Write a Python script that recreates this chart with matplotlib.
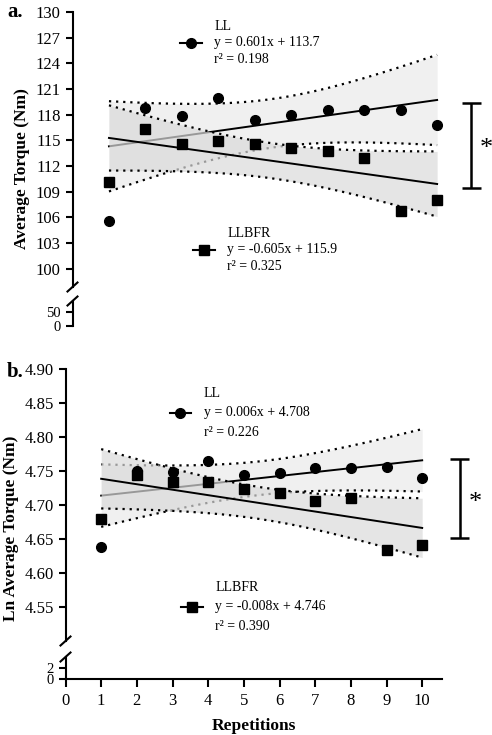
import numpy as np
import matplotlib
matplotlib.use("Agg")
import matplotlib.pyplot as plt

plt.rcParams['font.family'] = ['Liberation Serif', 'DejaVu Serif']
plt.rcParams['axes.linewidth'] = 1.5

# data
reps = np.arange(1, 11)
ll_a = [105.6, 118.8, 117.9, 119.9, 117.4, 118.0, 118.5, 118.6, 118.6, 116.8]
llbfr_a = [110.1, 116.3, 114.6, 114.9, 114.6, 114.1, 113.7, 112.9, 106.7, 108.0]
ll_b = [4.638, 4.750, 4.748, 4.765, 4.744, 4.747, 4.754, 4.754, 4.756, 4.739]
llbfr_b = [4.679, 4.744, 4.733, 4.734, 4.724, 4.718, 4.706, 4.710, 4.633, 4.641]

labels_a = ["LL\ny = 0.601x + 113.7\nr² = 0.198", "LLBFR\ny = -0.605x + 115.9\nr² = 0.325"]
labels_b = ["LL\ny = 0.006x + 4.708\nr² = 0.226", "LLBFR\ny = -0.008x + 4.746\nr² = 0.390"]

yticks_a = [100, 103, 106, 109, 112, 115, 118, 121, 124, 127, 130]
yticks_b = [4.55, 4.60, 4.65, 4.70, 4.75, 4.80, 4.85, 4.90]
xticks = list(range(0, 11))

T_CRIT = 2.306  # t(0.975, df=8)

W, H = 492, 735


def box(l, t, r, b):
    # pixel box -> figure fraction
    return [l / W, 1 - b / H, (r - l) / W, (b - t) / H]


def fit_band(x, y):
    x = np.asarray(x, float)
    y = np.asarray(y, float)
    m, c = np.polyfit(x, y, 1)
    xs = np.linspace(x.min(), x.max(), 200)
    fit = m * xs + c
    resid = y - (m * x + c)
    s = np.sqrt(np.sum(resid ** 2) / (len(x) - 2))
    sxx = np.sum((x - x.mean()) ** 2)
    se = s * np.sqrt(1 / len(x) + (xs - x.mean()) ** 2 / sxx)
    return xs, fit, fit - T_CRIT * se, fit + T_CRIT * se


def draw_series(ax, ll, llbfr):
    dots = (0, (1, 2.2))
    xs, f, lo, hi = fit_band(reps, ll)
    ax.fill_between(xs, lo, hi, color='#f0f0f0', lw=0, zorder=1)
    ax.plot(xs, lo, ls=dots, color='black', lw=1.6, zorder=2)
    ax.plot(xs, hi, ls=dots, color='black', lw=1.6, zorder=2)
    ax.plot(xs, f, color='black', lw=1.4, zorder=2)

    xs, f, lo, hi = fit_band(reps, llbfr)
    ax.fill_between(xs, lo, hi, color='#dadada', alpha=0.7, lw=0, zorder=3)
    ax.plot(xs, lo, ls=dots, color='black', lw=1.6, zorder=4)
    ax.plot(xs, hi, ls=dots, color='black', lw=1.6, zorder=4)
    ax.plot(xs, f, color='black', lw=1.4, zorder=4)

    ax.plot(reps, ll, 'o', color='black', ms=7, zorder=5)
    ax.plot(reps, llbfr, 's', color='black', ms=7, zorder=5)


def legend_entry(ax, x, y, marker, text, spacing):
    ax.plot([x - 0.3, x + 0.3], [y, y], color='black', lw=1.5, zorder=6, clip_on=False)
    ax.plot([x], [y], marker, color='black', ms=7, zorder=6, clip_on=False)
    ax.text(x + 0.65, y, text, fontsize=10, va='center', ha='left',
            linespacing=spacing, zorder=6)


def bracket(ax, x, y0, y1, half, star_x, star_y):
    kw = dict(color='black', lw=1.8, clip_on=False, solid_capstyle='butt')
    ax.plot([x, x], [y0, y1], **kw)
    ax.plot([x - half, x + half], [y0, y0], **kw)
    ax.plot([x - half, x + half], [y1, y1], **kw)
    ax.text(star_x, star_y, '*', fontsize=19, ha='left', va='center', clip_on=False)


def break_marks(ax_up, ax_low):
    # small slashes across the left spine at the gap
    for ax, yy in ((ax_up, 0), (ax_low, 1)):
        bb = ax.get_position()
        dx = 5 / (bb.width * W)
        dy = 4.5 / (bb.height * H)
        ax.plot([-dx, dx], [yy - dy, yy + dy], transform=ax.transAxes,
                color='black', lw=1.5, clip_on=False)


def style(ax, left_only=True):
    for s in ['top', 'right']:
        ax.spines[s].set_visible(False)
    if left_only:
        ax.spines['bottom'].set_visible(False)
        ax.set_xticks([])
    ax.tick_params(axis='both', labelsize=12, width=1.5, length=5, direction='out')


fig = plt.figure(figsize=(4.92, 7.35), dpi=100)

# ---- panel a ----
axA = fig.add_axes(box(72.5, 12, 459, 287))
axA2 = fig.add_axes(box(72.5, 301, 459, 326))
axA.set_xlim(0, 10.6)
axA2.set_xlim(0, 10.6)
axA.set_ylim(97.86, 130)
axA2.set_ylim(0, 89.3)
axA.set_yticks(yticks_a)
axA2.set_yticks([0, 50])
style(axA)
style(axA2)
axA2.tick_params(axis='y', labelsize=10.5)
draw_series(axA, ll_a, llbfr_a)
legend_entry(axA, 3.24, 126.4, 'o', labels_a[0], 1.32)
legend_entry(axA, 3.6, 102.2, 's', labels_a[1], 1.32)
bracket(axA, 10.94, 109.4, 119.4, 0.26, 11.16, 114.0)
fig.text(22 / W, 1 - 169 / H, 'Average Torque (Nm)', fontsize=12.5, fontweight='bold',
         rotation=90, ha='center', va='center')
break_marks(axA, axA2)
fig.text(7 / W, 1 - 12 / H, 'a.', fontsize=15, fontweight='bold', va='center')

# ---- panel b ----
axB = fig.add_axes(box(65.5, 368.7, 441.8, 641))
axB2 = fig.add_axes(box(65.5, 657, 441.8, 679.3))
axB.set_xlim(0, 10.55)
axB2.set_xlim(0, 10.55)
axB.set_ylim(4.50, 4.90)
axB2.set_ylim(0, 3.84)
axB.set_yticks(yticks_b)
axB.set_yticklabels([f'{v:.2f}' for v in yticks_b])
axB2.set_yticks([0, 2])
style(axB)
style(axB2, left_only=False)
axB2.tick_params(axis='y', labelsize=10.5)
axB2.tick_params(axis='x', length=6, pad=4)
axB2.set_xticks(xticks)
axB2.set_xlabel('Repetitions', fontsize=12.5, fontweight='bold', labelpad=6)
draw_series(axB, ll_b, llbfr_b)
legend_entry(axB, 3.22, 4.8355, 'o', labels_b[0], 1.65)
legend_entry(axB, 3.55, 4.5506, 's', labels_b[1], 1.65)
bracket(axB, 11.05, 4.652, 4.7676, 0.265, 11.3, 4.703)
fig.text(11 / W, 1 - 528 / H, 'Ln Average Torque (Nm)', fontsize=12.5, fontweight='bold',
         rotation=90, ha='center', va='center')
break_marks(axB, axB2)
fig.text(7 / W, 1 - 372 / H, 'b.', fontsize=15, fontweight='bold', va='center')

fig.savefig('out.png', dpi=100, facecolor='white')
